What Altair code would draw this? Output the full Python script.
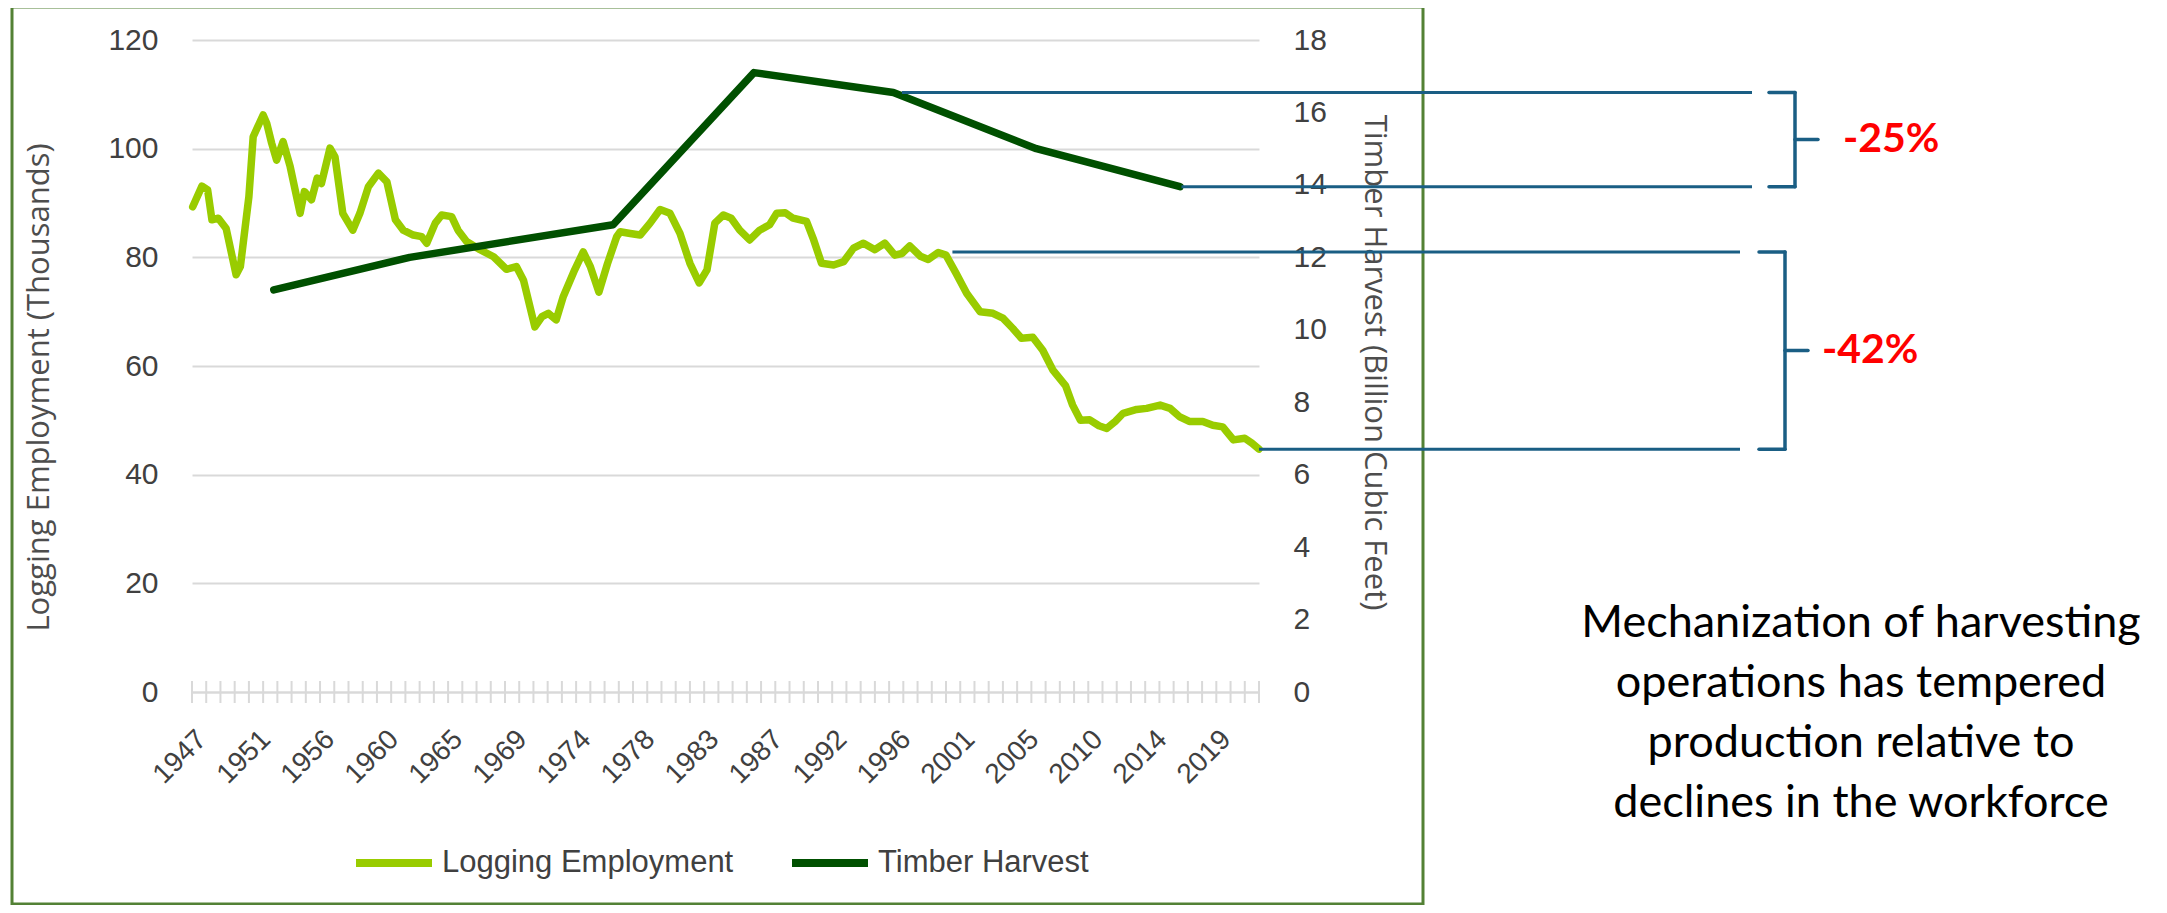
import altair as alt
import pandas as pd

# ---------------- data ----------------
emp_years = [1947.05, 1947.7, 1948.1, 1948.4, 1948.85, 1949.4, 1950.1, 1950.4, 1951.0, 1951.3,
             1952.0, 1952.25, 1952.6, 1952.95, 1953.4, 1953.9, 1954.6, 1954.9, 1955.4, 1955.8,
             1956.1, 1956.7, 1957.05, 1957.6, 1958.3, 1958.8, 1959.4, 1960.1, 1960.7, 1961.3,
             1961.85, 1962.55, 1963.15, 1963.5, 1964.1, 1964.55, 1965.25, 1965.7, 1966.3, 1967.25,
             1968.2, 1969.1, 1969.8, 1970.3, 1971.1, 1971.6, 1972.05, 1972.6, 1973.1, 1973.9,
             1974.5, 1975.0, 1975.6, 1976.2, 1976.85, 1977.1, 1977.8, 1978.5, 1979.2, 1979.9,
             1980.6, 1981.3, 1982.0, 1982.65, 1983.2, 1983.75, 1984.35, 1984.9, 1985.5, 1986.2,
             1986.9, 1987.6, 1988.1, 1988.7, 1989.25, 1990.2, 1990.7, 1991.25, 1992.1, 1992.8,
             1993.5, 1994.2, 1995.0, 1995.7, 1996.4, 1996.9, 1997.45, 1998.2, 1998.75, 1999.45,
             2000.0, 2000.7, 2001.45, 2002.4, 2003.3, 2004.0, 2004.7, 2005.3, 2006.1, 2006.8,
             2007.5, 2008.4, 2008.9, 2009.45, 2010.1, 2010.75, 2011.3, 2011.9, 2012.45, 2013.4,
             2014.1, 2015.05, 2015.75, 2016.4, 2017.1, 2018.05, 2018.75, 2019.45, 2020.2, 2021.0,
             2021.5, 2022.0]
emp_values = [89.3, 93.1, 92.4, 86.9, 87.2, 85.3, 76.8, 78.3, 91.2, 102.2,
              106.2, 104.7, 101.0, 97.9, 101.3, 96.7, 88.1, 92.1, 90.6, 94.6,
              93.6, 100.1, 98.5, 88.1, 85.0, 88.1, 93.0, 95.5, 93.9, 86.9,
              85.0, 84.1, 83.8, 82.6, 86.3, 87.8, 87.5, 85.0, 82.9, 81.4,
              80.1, 77.8, 78.3, 75.8, 67.2, 69.1, 69.7, 68.5, 72.8, 77.7,
              81.0, 78.3, 73.6, 78.8, 83.8, 84.7, 84.4, 84.1, 86.3, 88.8,
              88.1, 84.4, 78.9, 75.3, 77.7, 86.3, 87.8, 87.2, 85.0, 83.2,
              85.0, 86.0, 88.1, 88.2, 87.2, 86.6, 83.2, 78.9, 78.6, 79.2,
              81.7, 82.6, 81.4, 82.6, 80.4, 80.7, 82.1, 80.2, 79.6, 80.9,
              80.4, 77.1, 73.4, 70.0, 69.7, 68.8, 66.9, 65.1, 65.3, 62.9,
              59.3, 56.4, 52.8, 50.0, 50.1, 49.0, 48.5, 49.8, 51.3, 52.0,
              52.2, 52.8, 52.2, 50.7, 49.8, 49.8, 49.1, 48.8, 46.4, 46.7,
              45.8, 44.7]

harvest_years = [1952.75, 1962.3, 1976.6, 1986.5, 1996.3, 2006.35, 2016.45]
harvest_values = [11.1, 12.0, 12.9, 17.1, 16.55, 15.0, 13.95]

series_names = ["Logging Employment", "Timber Harvest"]
series_colors = ["#99CC00", "#005000"]

x_label_positions = [1947.0, 1951.5, 1956.0, 1960.5, 1965.0, 1969.5, 1974.0, 1978.5, 1983.0,
                     1987.5, 1992.0, 1996.5, 2001.0, 2005.5, 2010.0, 2014.5, 2019.0]
x_labels = ["1947", "1951", "1956", "1960", "1965", "1969", "1974", "1978", "1983",
            "1987", "1992", "1996", "2001", "2005", "2010", "2014", "2019"]
x_tick_years = list(range(1947, 2023))
x_domain = [1947, 2022]

left_ticks = [0, 20, 40, 60, 80, 100, 120]
right_ticks = [0, 2, 4, 6, 8, 10, 12, 14, 16, 18]

# annotations
harv_ann_years = [1996.9, 2016.55]
harv_ann_values = [16.55, 13.95]
harv_ann_label = "-25%"
emp_ann_years = [2000.45, 2022.0]
emp_ann_values = [81.0, 44.7]
emp_ann_label = "-42%"
note_lines = ["Mechanization of harvesting", "operations has tempered",
              "production relative to", "declines in the workforce"]

# ---------------- styling ----------------
W, H = 1067, 652
GRID = "#D9D9D9"
TXT = "#404040"
TITLE = "#4D4D4D"
BLUE = "#1A5E84"
RED = "#FF0000"
BORDER = "#538135"

labels_js = "[" + ",".join("'%s'" % s for s in x_labels) + "]"
pos_js = "[" + ",".join(repr(p) for p in x_label_positions) + "]"

x_axis = alt.Axis(values=x_label_positions,
                  labelExpr=f"{labels_js}[indexof({pos_js}, datum.value)]",
                  labelAngle=-45, labelAlign="right", labelBaseline="top",
                  labelPadding=33, labelFont="Liberation Sans", labelFontSize=28,
                  labelColor=TXT, labelOverlap=False, ticks=False, grid=False,
                  domain=True, domainColor=GRID, domainWidth=2, title=None)
x_scale = alt.Scale(domain=x_domain, nice=False, zero=False)


def X(field):
    return alt.X(f"{field}:Q", scale=x_scale, axis=x_axis)


left_scale = alt.Scale(domain=[0, 120], nice=False, zero=True)
right_scale = alt.Scale(domain=[0, 18], nice=False, zero=True)

left_axis = alt.Axis(values=left_ticks, title="Logging Employment (Thousands)",
                     titleFont="Open Sans", titleFontSize=31, titleFontWeight="normal",
                     titleColor=TITLE, titleX=-153, titleY=347, titleAngle=270,
                     titleAlign="center", titleBaseline="middle",
                     labelFont="Liberation Sans", labelFontSize=30, labelColor=TXT,
                     labelPadding=34, ticks=False, domain=False, grid=True,
                     gridColor=GRID, gridWidth=2)
right_axis = alt.Axis(orient="right", values=right_ticks,
                      title="Timber Harvest (Billion Cubic Feet)",
                      titleFont="Open Sans", titleFontSize=31, titleFontWeight="normal",
                      titleColor=TITLE, titleX=114, titleY=322, titleAngle=90,
                      titleAlign="center", titleBaseline="middle",
                      labelFont="Liberation Sans", labelFontSize=30, labelColor=TXT,
                      labelPadding=34, ticks=False, domain=False, grid=False)


def YL(field):
    return alt.Y(f"{field}:Q", scale=left_scale, axis=left_axis)


def YR(field):
    return alt.Y(f"{field}:Q", scale=right_scale, axis=right_axis)


legend = alt.Legend(orient="none", legendX=160, legendY=781, direction="horizontal",
                    title=None, symbolType="stroke", symbolSize=5776,
                    symbolStrokeWidth=8, labelFont="Liberation Sans", labelFontSize=31,
                    labelColor=TXT, labelOffset=6, columnPadding=42, labelLimit=0)
color = alt.Color("series:N", scale=alt.Scale(domain=series_names, range=series_colors),
                  legend=legend)

emp_df = pd.DataFrame({"year": emp_years, "value": emp_values, "series": series_names[0]})
harv_df = pd.DataFrame({"year": harvest_years, "value": harvest_values, "series": series_names[1]})
tick_df = pd.DataFrame({"year": x_tick_years})
one = alt.Data(values=[{"k": 1}])

# frame around chart
border = alt.Chart(one).mark_rect(fill="transparent", stroke=BORDER, strokeWidth=3).encode(
    x=alt.value(-180), x2=alt.value(1231), y=alt.value(-33), y2=alt.value(864))

# x tick marks crossing the axis
ticks = alt.Chart(tick_df).mark_rule(color=GRID, strokeWidth=2).encode(
    x=X("year"), y=alt.value(H - 11), y2=alt.value(H + 11))

emp_line = alt.Chart(emp_df).mark_line(strokeWidth=7.5, strokeJoin="round", strokeCap="round").encode(
    x=X("year"), y=YL("value"), color=color)
harv_line = alt.Chart(harv_df).mark_line(strokeWidth=7.5, strokeJoin="round", strokeCap="round").encode(
    x=X("year"), y=YR("value"), color=color)

# annotation lines + braces
emp_ann_df = pd.DataFrame({"year": emp_ann_years, "value": emp_ann_values})
harv_ann_df = pd.DataFrame({"year": harv_ann_years, "value": harv_ann_values})
emp_brace_df = pd.DataFrame({"top": [emp_ann_values[0]], "bottom": [emp_ann_values[1]],
                             "mid": [sum(emp_ann_values) / 2], "label": [emp_ann_label]})
harv_brace_df = pd.DataFrame({"top": [harv_ann_values[0]], "bottom": [harv_ann_values[1]],
                              "mid": [sum(harv_ann_values) / 2], "label": [harv_ann_label]})


def annot(df, brace_df, Yf, x_end, hook_x, vert_x, tip_x, text_x):
    lines = alt.Chart(df).mark_rule(color=BLUE, strokeWidth=3).encode(
        x=X("year"), x2=alt.value(x_end), y=Yf("value"))
    hooks = alt.Chart(df).mark_rule(color=BLUE, strokeWidth=3.5, strokeCap="round").encode(
        x=alt.value(hook_x), x2=alt.value(vert_x), y=Yf("value"))
    vert = alt.Chart(brace_df).mark_rule(color=BLUE, strokeWidth=3.5, strokeCap="round").encode(
        x=alt.value(vert_x), y=Yf("top"), y2=alt.Y2("bottom:Q"))
    tip = alt.Chart(brace_df).mark_rule(color=BLUE, strokeWidth=3.5, strokeCap="round").encode(
        x=alt.value(vert_x), x2=alt.value(tip_x), y=Yf("mid"))
    txt = alt.Chart(brace_df).mark_text(align="left", baseline="middle", font="Lato",
                                        fontWeight="bold", fontSize=41, color=RED).encode(
        x=alt.value(text_x), y=Yf("mid"), text="label:N")
    return [lines, hooks, vert, tip, txt]


emp_ann = annot(emp_ann_df, emp_brace_df, YL, 1548, 1567, 1593, 1616, 1630)
harv_ann = annot(harv_ann_df, harv_brace_df, YR, 1560, 1577, 1603, 1626, 1651)

note = alt.Chart(alt.Data(values=[{"text": note_lines}])).mark_text(
    align="center", baseline="alphabetic", font="Lato", fontSize=45, lineHeight=60,
    color="#000000").encode(x=alt.value(1669), y=alt.value(597), text="text:N")

left = alt.layer(border, ticks, emp_line, *emp_ann, note)
right = alt.layer(harv_line, *harv_ann)

chart = alt.layer(left, right).resolve_scale(y="independent").properties(
    width=W, height=H,
    autosize=alt.AutoSizeParams(type="none"),
    padding={"left": 184, "top": 32, "right": 900, "bottom": 213},
    background="white",
).configure_view(stroke=None)

chart.save("out.html", embed_options={"renderer": "svg", "actions": False})
